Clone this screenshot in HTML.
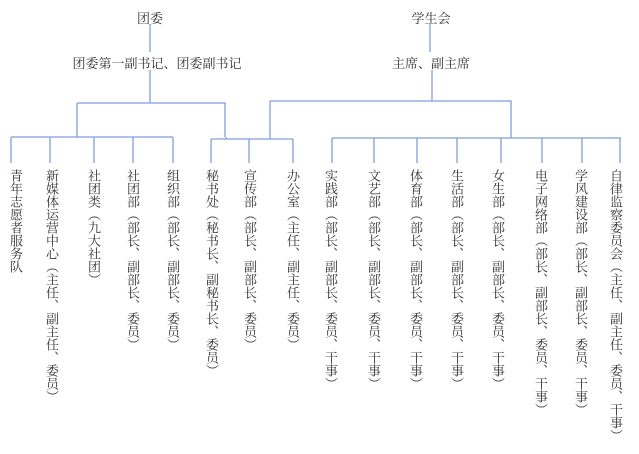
<!DOCTYPE html>
<html><head><meta charset="utf-8"><style>
body{margin:0;background:#fff;width:639px;height:454px;overflow:hidden;position:relative;font-family:"Liberation Serif","Noto Serif CJK SC",serif;color:#333}
.h{position:absolute;font-size:13px;white-space:nowrap;transform:translateX(-50%)}
.v{position:absolute;top:169px;font-size:13px;writing-mode:vertical-rl;letter-spacing:0;line-height:14px;white-space:nowrap;transform:translateX(-50%)}
svg{position:absolute;left:0;top:0}
</style></head><body>
<svg width="639" height="454"><g stroke="#7f9fdc" stroke-width="1.3" fill="none">
<path d="M150 24V52M150 70V103M77 103H225V137M77 103V137"/>
<path d="M11 137H173M11 137V163M50 137V163M94 137V163M133 137V163M173 137V163"/>
<path d="M211 139H293M211 139V163M249 139V163M293 139V163M226 137V139"/>
<path d="M430 24V52M432 70V101M270 101H511V138M270 101V139"/>
<path d="M332 138H621M332 138V163M374 138V163M417 138V163M457 138V163M501 138V163M542 138V163M582 138V163M620 138V163"/>
</g></svg>
<div class="h" style="left:150px;top:8px">团委</div>
<div class="h" style="left:157px;top:53px">团委第一副书记、团委副书记</div>
<div class="h" style="left:431px;top:8px">学生会</div>
<div class="h" style="left:431px;top:53px">主席、副主席</div>
<div class="v" style="left:15px">青年志愿者服务队</div>
<div class="v" style="left:51px">新媒体运营中心（主任、副主任、委员）</div>
<div class="v" style="left:93px">社团类（九大社团）</div>
<div class="v" style="left:132px">社团部（部长、副部长、委员）</div>
<div class="v" style="left:172px">组织部（部长、副部长、委员）</div>
<div class="v" style="left:211px">秘书处（秘书长、副秘书长、委员）</div>
<div class="v" style="left:249px">宣传部（部长、副部长、委员）</div>
<div class="v" style="left:292px">办公室（主任、副主任、委员）</div>
<div class="v" style="left:330px">实践部（部长、副部长、委员、干事）</div>
<div class="v" style="left:373px">文艺部（部长、副部长、委员、干事）</div>
<div class="v" style="left:415px">体育部（部长、副部长、委员、干事）</div>
<div class="v" style="left:456px">生活部（部长、副部长、委员、干事）</div>
<div class="v" style="left:497px">女生部（部长、副部长、委员、干事）</div>
<div class="v" style="left:540px">电子网络部（部长、副部长、委员、干事）</div>
<div class="v" style="left:580px">学风建设部（部长、副部长、委员、干事）</div>
<div class="v" style="left:615px">自律监察委员会（主任、副主任、委员、干事）</div>
</body></html>
